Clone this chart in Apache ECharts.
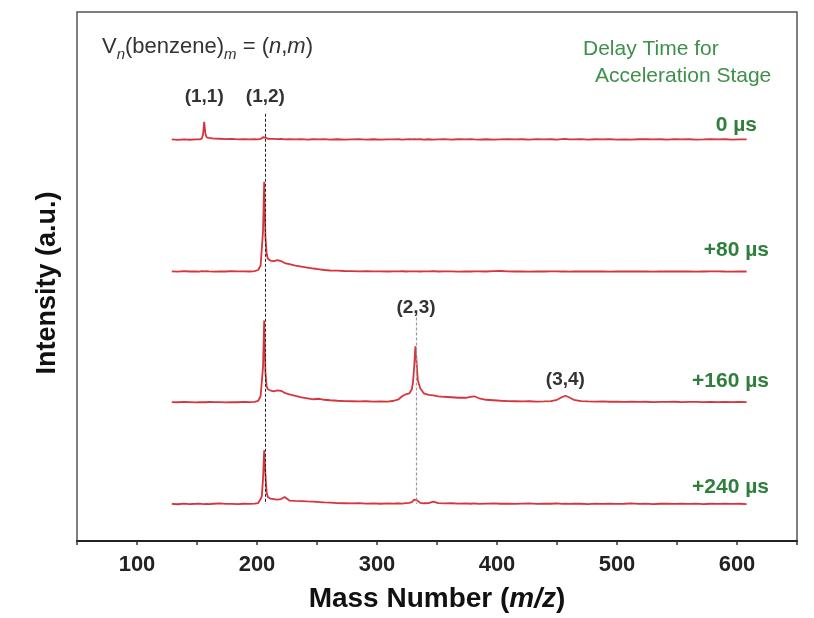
<!DOCTYPE html>
<html>
<head>
<meta charset="utf-8">
<script src="https://cdn.jsdelivr.net/npm/echarts@6/dist/echarts.min.js"></script>
<style>
  html,body{margin:0;padding:0;background:#fff;}
  #main{width:814px;height:618px;}
</style>
</head>
<body>
<div id="main"></div>
<script>
// mass axis samples (m/z), shared by all four traces
const mass = [
  129,134,139,144,149,152,154,155,156,157,
  158,160,164,169,174,179,184,189,194,198,
  201,203,204,205,206,207,208,209,211,214,
  217,220,223,227,232,237,242,247,252,256,
  261,267,273,279,285,291,297,303,309,314,
  318,321,324,327,329,330,331,332,333,334,
  336,339,343,347,351,356,362,368,374,378,
  381,385,391,397,403,409,415,421,427,433,
  439,445,450,454,457,460,464,470,476,482,
  488,494,500,506,512,518,524,530,536,542,
  548,554,560,566,572,578,584,590,596,602,608
]
// intensities (a.u.), above its own baseline
const int0 = [
  0.3,-0.2,0.4,0,0.3,0.4,1.2,5,18,6,
  2.5,1.8,1.2,1.0,0.6,0.9,0.4,0.7,0.3,0.5,
  0.4,0.8,1.2,2.5,3.5,2.2,1.4,1.0,0.8,0.9,
  0.6,0.8,0.4,0.7,0.3,0.6,0.2,0.5,0.3,0.6,
  0.2,0.5,0.1,0.4,0.6,0.2,0.5,0.1,0.4,0.3,
  0.5,0.2,0.4,0.6,0.3,0.7,0.5,0.8,0.4,0.3,
  0.6,0.2,0.5,0.1,0.4,0.6,0.2,0.5,0.3,0.6,
  0.4,0.2,0.5,0.1,0.4,0.7,0.3,0.5,0.2,0.6,
  0.3,0.5,0.2,0.6,0.8,0.4,0.3,0.6,0.2,0.5,
  0.3,0.6,0.2,0.4,0.1,0.5,0.7,0.3,0.5,0.2,
  0.6,0.3,0.5,0.2,0.4,0.7,0.3,0.5,0.2,0.4,0.3
]
const int80 = [
  0.2,-0.1,0.3,0,0.2,-0.1,0.3,0.1,0.2,0,
  0.3,0.1,-0.1,0.2,0,0.3,0.1,0.2,0,0.4,
  1.5,6,8,40,90,35,18,13,11,10.5,
  11.5,10.5,8.5,7.5,6,5,4,3,2.2,1.5,
  1.0,0.8,0.5,0.4,0.2,0.3,0.1,0.2,0,0.2,
  0.1,0.3,0,0.2,0.1,0.3,0.2,0.4,0.1,0.2,
  0,0.2,0.1,0.3,0,0.2,0.1,-0.1,0.2,0,
  0.2,0.1,0,0.3,0.5,0.1,0,0.2,-0.1,0.1,
  0,0.2,0.1,0,0.2,-0.1,0.1,0,0.2,0,
  0.1,-0.1,0.2,0,0.1,0,0.2,-0.1,0.1,0,
  0.1,0,0.2,-0.1,0,0.1,0.2,0,-0.1,0.1,0
]
const int160 = [
  0.2,0,0.3,0.1,-0.1,0.2,0,0.3,0.1,0.2,
  0,0.3,0.1,0.2,-0.1,0.2,0,0.3,0.1,0.4,
  1.5,6,8,35,82,30,16,13,12,11,
  12,11.5,9.5,8,6.5,5,4,3,3.5,2.5,
  2,1.5,1.2,1,0.8,1,0.6,0.9,0.7,1.5,
  3,6,8,9,13,20,36,56,40,22,
  14,9,7.5,7,6,5.5,5,4.5,4.5,5.5,
  6,4,2.5,2,1.5,1.2,1,0.8,1,0.6,
  0.8,1.2,2.5,5,6.5,5,2.5,1.2,0.8,0.6,
  0.9,0.5,0.7,0.4,0.6,0.3,0.5,0.2,0.4,0.3,
  0.5,0.2,0.4,0.3,0.1,0.4,0.2,0.3,0.1,0.3,0.2
]
const int240 = [
  0.2,-0.2,0.4,0,0.3,0.5,0.1,0.3,-0.1,0.4,
  0.2,0,0.3,0.6,0.1,0.2,-0.1,0.3,0.1,0.4,
  1.0,5,8,25,54,30,12,7,5.5,5,
  4.5,5,7,3.5,3.2,3,2.6,2.5,2,1.6,
  1.4,1.0,0.8,0.6,0.9,0.4,0.7,0.3,0.6,0.5,
  0.8,0.4,1.0,1.3,2,3,4.5,5.5,4,2.5,
  1.2,0.8,1.0,2.5,1.0,0.6,0.8,0.4,0.7,0.3,
  0.6,0.2,0.5,0.7,0.3,0.5,0.1,0.4,0.6,0.2,
  0.5,0.3,0.6,0.1,0.4,0.2,0.5,0.3,0,0.4,
  0.2,0.5,0.1,0.3,0.6,0.2,0.4,0,0.3,0.5,
  0.1,0.4,0.2,0.5,0,0.3,0.1,0.4,0.2,0.3,0
]
const traces = [int0, int80, int160, int240]
const delayLabels = ["0 µs", "+80 µs", "+160 µs", "+240 µs"]
const tickLabels = [100, 200, 300, 400, 500, 600]
const peakNames = ["(1,1)", "(1,2)", "(2,3)", "(3,4)"]
const peakMass = [156, 207, 332.5, 457]

// layout bits (pixels / stacking offsets), kept apart from the data
const offsets = [402, 270, 139, 37]
const delayLabelPos = [[757, 125], [769, 250], [769, 381], [769, 487]]
const peakLabelY = [97, 97, 308, 380]
const FONT = "'Liberation Sans', Arial, sans-serif"
const RED = "#d8343c"
const GREEN = "#2f7f3c"

let myChart = echarts.init(document.getElementById("main"))

let series = traces.map((vals, k) => ({
  name: delayLabels[k],
  type: "line",
  data: mass.map((m, i) => [m, vals[i] + offsets[k]]),
  showSymbol: false,
  lineStyle: { color: RED, width: 1.8 },
  silent: true,
  z: 3
}))

// dashed guide lines through (1,2) and (2,3)
series[3].markLine = {
  symbol: "none",
  silent: true,
  label: { show: false },
  data: [
    [{ coord: [207, 428], lineStyle: { color: "#222", type: [3, 2], width: 1 } }, { coord: [207, 37] }],
    [{ coord: [332.5, 224], lineStyle: { color: "#999", type: [3, 2], width: 1.2 } }, { coord: [332.5, 37] }]
  ]
}

myChart.setOption({
  animation: false,
  grid: { left: 77, right: 17, top: 12, bottom: 76, show: true, borderColor: "#555", borderWidth: 1.5 },
  xAxis: {
    type: "value",
    min: 50,
    max: 650,
    interval: 50,
    splitLine: { show: false },
    axisLine: { lineStyle: { color: "#222", width: 2 } },
    axisTick: { length: 4, lineStyle: { color: "#333", width: 1.5 } },
    axisLabel: {
      formatter: v => tickLabels.includes(v) ? String(v) : "",
      fontSize: 22, fontWeight: "bold", color: "#222", fontFamily: FONT, margin: 13
    },
    name: "Mass Number ({it|m/z})",
    nameLocation: "middle",
    nameGap: 44,
    nameTextStyle: {
      fontSize: 28, fontWeight: "bold", color: "#111", fontFamily: FONT,
      rich: { it: { fontSize: 28, fontWeight: "bold", fontStyle: "italic", color: "#111", fontFamily: FONT } }
    }
  },
  yAxis: { type: "value", min: 0, max: 530, show: false },
  series: series
})

// text annotations
let graphics = [
  {
    type: "text", x: 48, y: 283, rotation: Math.PI / 2,
    style: { text: "Intensity (a.u.)", align: "center", verticalAlign: "middle", textAlign: "center", textVerticalAlign: "middle",
      fontSize: 27, fontWeight: "bold", fontFamily: FONT, fill: "#111" }
  },
  {
    type: "text", x: 102, y: 32,
    style: {
      text: "V{sub|n}(benzene){sub|m} = ({it|n},{it|m})",
      fontSize: 22, fontFamily: FONT, fill: "#333", lineHeight: 30,
      rich: {
        sub: { fontSize: 15, fontStyle: "italic", fontFamily: FONT, fill: "#333", lineHeight: 15, verticalAlign: "bottom" },
        it: { fontSize: 22, fontStyle: "italic", fontFamily: FONT, fill: "#333", lineHeight: 30 }
      }
    }
  },
  { type: "text", x: 583, y: 39, style: { text: "Delay Time for", fontSize: 21, fontFamily: FONT, fill: "#3f8f4a" } },
  { type: "text", x: 595, y: 66, style: { text: "Acceleration Stage", fontSize: 21, fontFamily: FONT, fill: "#3f8f4a" } }
]
delayLabels.forEach((t, k) => {
  graphics.push({
    type: "text", x: delayLabelPos[k][0], y: delayLabelPos[k][1],
    style: { text: t, align: "right", verticalAlign: "middle", textAlign: "right", textVerticalAlign: "middle",
      fontSize: 21, fontWeight: "bold", fontFamily: FONT, fill: GREEN }
  })
})
peakNames.forEach((t, k) => {
  let px = myChart.convertToPixel({ gridIndex: 0 }, [peakMass[k], 0])[0]
  graphics.push({
    type: "text", x: px, y: peakLabelY[k],
    style: { text: t, align: "center", verticalAlign: "middle", textAlign: "center", textVerticalAlign: "middle",
      fontSize: 19, fontWeight: "bold", fontFamily: FONT, fill: "#333" }
  })
})
myChart.setOption({ graphic: graphics })
</script>
</body>
</html>
